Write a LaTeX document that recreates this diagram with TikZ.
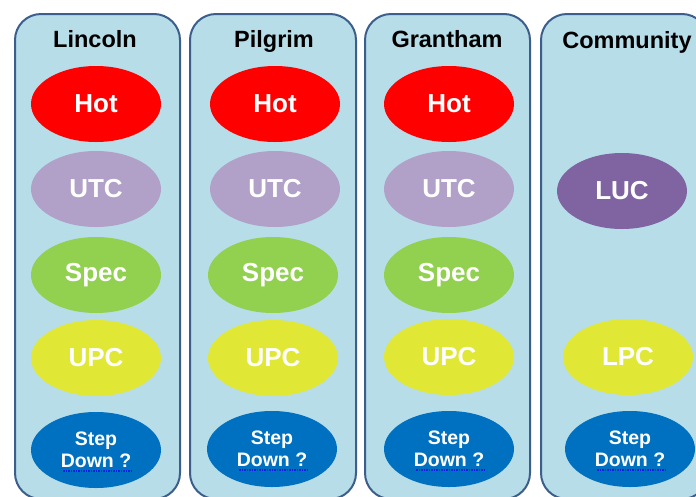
\documentclass[tikz,border=0pt]{standalone}
\usepackage{fontspec}
\setmainfont{Liberation Sans}
\usetikzlibrary{shapes.geometric}

\definecolor{lane}{HTML}{B7DDE8}
\definecolor{laneedge}{HTML}{3B5E8C}
\definecolor{hotred}{HTML}{FF0000}
\definecolor{utcviolet}{HTML}{B1A0C7}
\definecolor{specgreen}{HTML}{92D050}
\definecolor{upcyellow}{HTML}{E0E835}
\definecolor{stepblue}{HTML}{0070C0}
\definecolor{lucpurple}{HTML}{8064A2}
\definecolor{squiggle}{HTML}{1020E0}

\begin{document}
\begin{tikzpicture}[x=1pt,y=-1pt,
  lanebox/.style={draw=laneedge, line width=2pt, fill=lane, rounded corners=26pt},
  title/.style={anchor=base, font=\bfseries\fontsize{23.5}{26}\selectfont, text=black},
  unit/.style={ellipse, minimum width=130pt, minimum height=76pt, inner sep=0pt,
               text=white, font=\bfseries\fontsize{26}{28}\selectfont},
  stepdown/.style={unit, fill=stepblue, align=center,
               font=\bfseries\fontsize{19.5}{21.5}\selectfont},
  underl/.style={draw=squiggle, line width=1.3pt, dash pattern=on 1.5pt off 1pt}]

\useasboundingbox (0,0) rectangle (696,496);
\clip (0,0) rectangle (696,496);

% the four lanes
\draw[lanebox] (15,14) rectangle (180,499);
\draw[lanebox] (190,14) rectangle (356,499);
\draw[lanebox] (365,14) rectangle (530,499);
\draw[lanebox] (541,14) rectangle (708,499);

% lane titles, sitting on a common baseline
\node[title] (tLincoln)   at (95,47)  {Lincoln};
\node[title] (tPilgrim)   at (274,47) {Pilgrim};
\node[title] (tGrantham)  at (447,47) {Grantham};
\node[title] (tCommunity) at (627,48) {Community};

% Lincoln
\node[unit, fill=hotred]     (h1) at (96,104) {Hot};
\node[unit, fill=utcviolet]  (u1) at (96,189) {UTC};
\node[unit, fill=specgreen]  (p1) at (96,275) {Spec};
\node[unit, fill=upcyellow]  (c1) at (96,358) {UPC};
\node[stepdown]              (s1) at (96,450) {Step\\Down ?};

% Pilgrim
\node[unit, fill=hotred]     (h2) at (275,104) {Hot};
\node[unit, fill=utcviolet]  (u2) at (275,189) {UTC};
\node[unit, fill=specgreen]  (p2) at (273,275) {Spec};
\node[unit, fill=upcyellow]  (c2) at (273,358) {UPC};
\node[stepdown]              (s2) at (272,449) {Step\\Down ?};

% Grantham
\node[unit, fill=hotred]     (h3) at (449,104) {Hot};
\node[unit, fill=utcviolet]  (u3) at (449,189) {UTC};
\node[unit, fill=specgreen]  (p3) at (449,275) {Spec};
\node[unit, fill=upcyellow]  (c3) at (449,357) {UPC};
\node[stepdown]              (s3) at (449,449) {Step\\Down ?};

% Community
\node[unit, fill=lucpurple]  (l4) at (622,191) {LUC};
\node[unit, fill=upcyellow]  (c4) at (628,357) {LPC};
\node[stepdown]              (s4) at (630,449) {Step\\Down ?};

% spelling marks under "Down ?"
\foreach \n in {s1,s2,s3,s4}
  \draw[underl] ([xshift=-33pt,yshift=-21pt]\n.center) -- ([xshift=36pt,yshift=-21pt]\n.center);

\end{tikzpicture}
\end{document}
